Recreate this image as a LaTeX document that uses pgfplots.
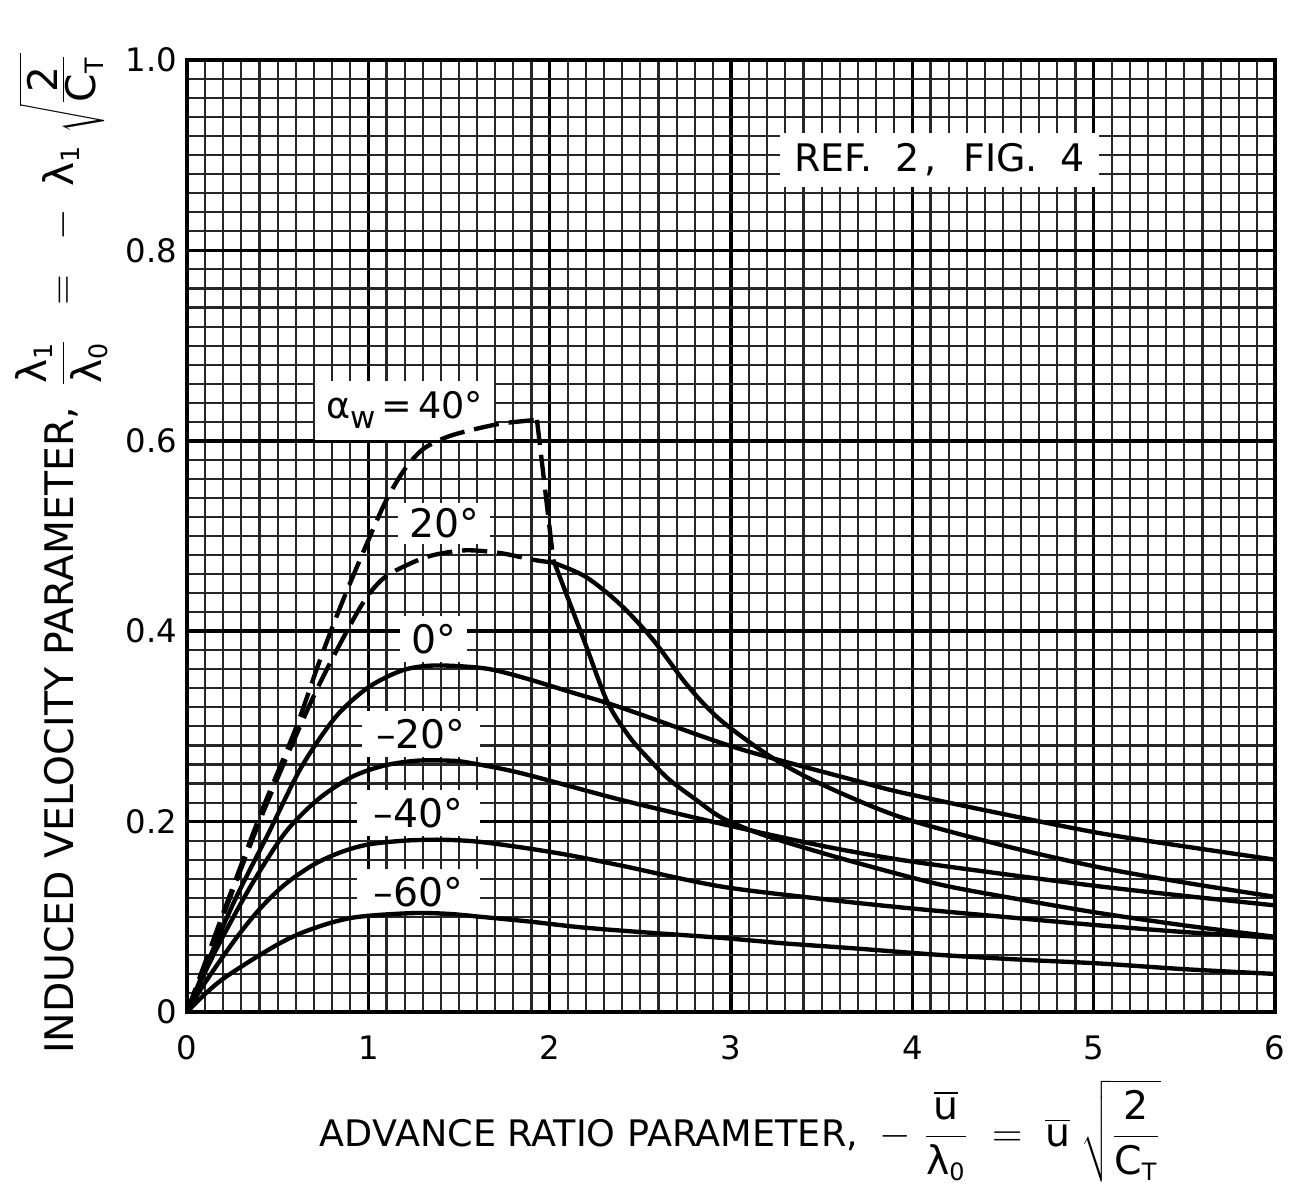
\documentclass[border=0pt]{standalone}
\usepackage{pgfplots}
\pgfplotsset{compat=1.18}
\usepackage{fontspec}
\setmainfont{DejaVu Sans}
\newcommand\lam{\mbox{λ}}

\begin{document}
\begin{tikzpicture}
\begin{axis}[
  scale only axis, width=13.6cm, height=11.9cm,
  xmin=0, xmax=6, ymin=0, ymax=1,
  xtick={0,1,2,3,4,5,6}, xticklabels={0,1,2,3,4,5,6},
  ytick={0,0.2,0.4,0.6,0.8,1}, yticklabels={0,0.2,0.4,0.6,0.8,1.0},
  minor x tick num=9, minor y tick num=9,
  grid=both,
  major grid style={black, line width=1.25pt},
  minor grid style={black!85, line width=0.75pt},
  major tick length=0pt, minor tick length=0pt,
  axis line style={black, line width=1.6pt},
  tick label style={font=\fontsize{11.5}{13}\selectfont, black},
  xticklabel style={yshift=-0.17cm},
  every axis plot/.append style={black, line width=1.55pt},
]
% labels with white boxes (drawn first, curves over them)
\node[fill=white, inner xsep=5pt, inner ysep=3.7pt, font=\fontsize{13.5}{15}\selectfont]
  at (axis cs:4.15,0.895) {REF.\hspace{0.6em}2\hspace{0.15em},\hspace{0.7em}FIG.\hspace{0.6em}4};
\node[fill=white, inner xsep=4pt, inner ysep=4pt, font=\fontsize{13}{15}\selectfont]
  at (axis cs:1.20,0.632) {α\raisebox{-0.5ex}{\fontsize{11}{12}\selectfont w}\,=\,40°};
\node[fill=white, inner xsep=4pt, inner ysep=2pt, font=\fontsize{14}{15}\selectfont]
  at (axis cs:1.417,0.513) {20°};
\node[fill=white, inner xsep=4pt, inner ysep=3pt, font=\fontsize{14}{15}\selectfont]
  at (axis cs:1.36,0.392) {0°};
\node[fill=white, inner xsep=5pt, inner ysep=3pt, font=\fontsize{14}{15}\selectfont]
  at (axis cs:1.29,0.292) {–20°};
\node[fill=white, inner xsep=6pt, inner ysep=3pt, font=\fontsize{14}{15}\selectfont]
  at (axis cs:1.275,0.209) {–40°};
\node[fill=white, inner xsep=6pt, inner ysep=3pt, font=\fontsize{14}{15}\selectfont]
  at (axis cs:1.275,0.126) {–60°};

% alpha = -60
\addplot[smooth] coordinates {
(0,0) (0.1,0.019) (0.2,0.035) (0.36,0.055) (0.51,0.072) (0.63,0.083) (0.78,0.093)
(0.91,0.099) (1.06,0.102) (1.27,0.104) (1.45,0.103) (1.62,0.100) (1.89,0.095)
(2.17,0.089) (2.5,0.084) (2.94,0.078) (3.3,0.072) (3.67,0.067) (4.15,0.060)
(4.6,0.055) (5.03,0.051) (5.5,0.045) (6,0.040)};
% alpha = -40
\addplot[smooth] coordinates {
(0,0) (0.1,0.031) (0.265,0.076) (0.4,0.108) (0.54,0.134) (0.7,0.155) (0.85,0.168)
(1.0,0.176) (1.2,0.180) (1.4,0.181) (1.6,0.179) (1.84,0.173) (2.1,0.165) (2.39,0.154)
(2.94,0.132) (3.49,0.119) (3.93,0.110) (4.5,0.100) (5.03,0.091) (5.5,0.084) (6,0.078)};
% alpha = -20
\addplot[smooth] coordinates {
(0,0) (0.1,0.042) (0.2,0.080) (0.36,0.135) (0.54,0.188) (0.72,0.223) (0.91,0.247)
(1.09,0.259) (1.27,0.264) (1.45,0.264) (1.55,0.262) (1.84,0.251) (2.39,0.223)
(2.94,0.198) (3.49,0.175) (3.93,0.160) (4.5,0.145) (5.03,0.132) (5.5,0.122) (6,0.112)};
% alpha = 0
\addplot[smooth] coordinates {
(0,0) (0.1,0.046) (0.265,0.118) (0.45,0.188) (0.63,0.257) (0.82,0.310) (1.0,0.341)
(1.19,0.359) (1.37,0.364) (1.64,0.361) (1.84,0.352) (2.1,0.337) (2.39,0.320)
(2.94,0.283) (3.22,0.267) (3.67,0.244) (3.93,0.231) (4.5,0.208) (5.03,0.188)
(5.5,0.174) (6,0.160)};
% alpha = 20, dashed part
\addplot[smooth, dash pattern=on 9pt off 3.5pt] coordinates {
(0,0) (0.1,0.050) (0.227,0.115) (0.41,0.205) (0.6,0.290) (0.75,0.352) (0.955,0.425)
(1.08,0.455) (1.23,0.471) (1.36,0.480) (1.54,0.485) (1.73,0.482) (1.91,0.475) (2.02,0.472)};
% alpha = 20, solid part
\addplot[smooth] coordinates {
(2.02,0.472) (2.2,0.457) (2.39,0.428) (2.57,0.391) (2.76,0.343) (2.94,0.307)
(3.22,0.268) (3.49,0.240) (3.93,0.205) (4.5,0.175) (5.03,0.152) (5.5,0.136) (6,0.121)};
% alpha = 40, dashed part
\addplot[smooth, dash pattern=on 9pt off 3.5pt] coordinates {
(0,0) (0.1,0.052) (0.227,0.118) (0.41,0.210) (0.6,0.298) (0.73,0.368) (0.855,0.430)
(1.01,0.500) (1.10,0.538) (1.2,0.570) (1.3,0.591) (1.42,0.603) (1.54,0.610) (1.73,0.618) (1.93,0.622)};
\addplot[dash pattern=on 9pt off 3.5pt] coordinates {(1.93,0.622) (2.02,0.475)};
% alpha = 40, solid part
\addplot[smooth] coordinates {
(2.02,0.475) (2.1,0.435) (2.2,0.385) (2.32,0.325) (2.44,0.289) (2.55,0.265)
(2.66,0.244) (2.8,0.224) (2.94,0.205) (3.12,0.190) (3.31,0.178) (3.67,0.158)
(4.15,0.134) (4.6,0.118) (5.03,0.104) (5.5,0.091) (6,0.079)};
\end{axis}

% x label
\node[anchor=base, inner sep=1pt, font=\fontsize{13}{15}\selectfont] at ([yshift=-1.68cm, xshift=0.12cm]current axis.south)
 {ADVANCE RATIO PARAMETER,\hspace{0.6em}{\fontsize{14}{17}\selectfont$\displaystyle -\;\frac{\overline{\mbox{u}}}{\lam_{\mbox{\fontsize{8.5}{9}\selectfont 0}}}\;=\;\overline{\mbox{u}}\;\sqrt{\frac{\mbox{2}}{\mbox{C}_{\mbox{\fontsize{8.5}{9}\selectfont T}}}}$}};

% y label
\node[rotate=90, anchor=base, inner sep=1pt, font=\fontsize{14}{16}\selectfont] at ([xshift=-1.42cm, yshift=-0.22cm]current axis.west)
 {INDUCED VELOCITY PARAMETER,\hspace{0.5em}{\fontsize{14.5}{17}\selectfont$\displaystyle \frac{\lam_{\mbox{\fontsize{9}{10}\selectfont 1}}}{\lam_{\mbox{\fontsize{9}{10}\selectfont 0}}}\;\;=\;\;-\;\;\lam_{\mbox{\fontsize{9}{10}\selectfont 1}}\;\sqrt{\textstyle\frac{\mbox{2}}{\mbox{C}_{\mbox{\fontsize{9}{10}\selectfont T}}}}$}};

\pgfresetboundingbox
\path[use as bounding box] ([xshift=-2.3375cm,yshift=-2.125cm]current axis.south west) rectangle ([xshift=0.2125cm,yshift=0.75cm]current axis.north east);
\end{tikzpicture}
\end{document}
